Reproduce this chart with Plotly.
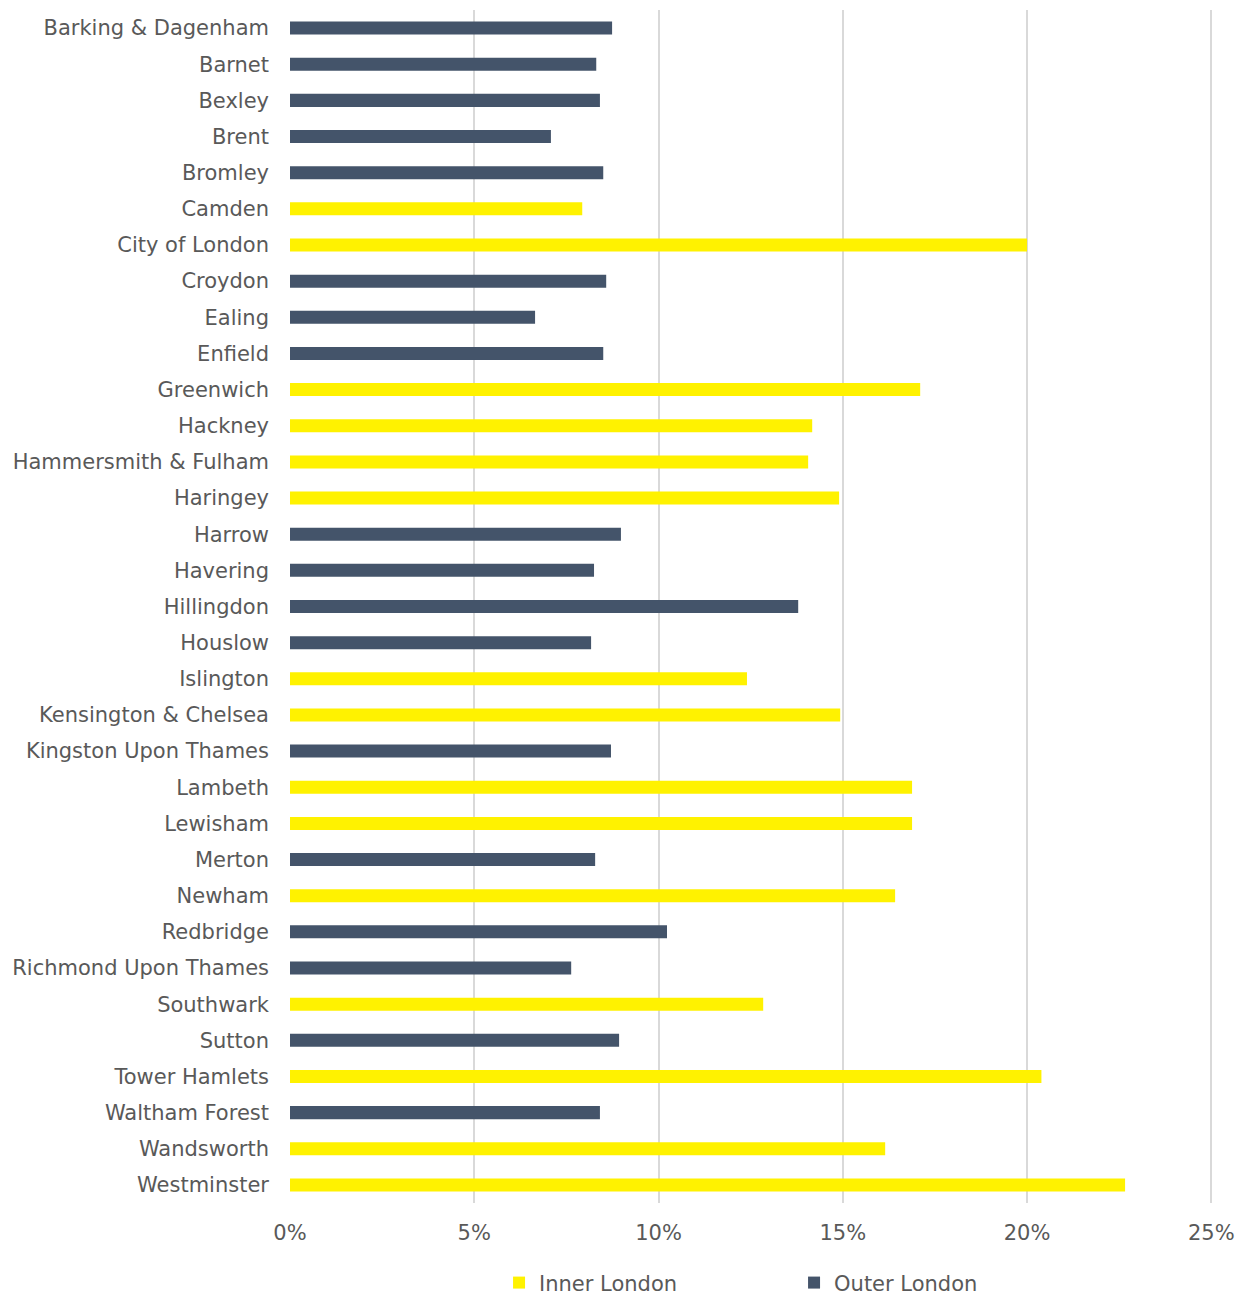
import plotly.graph_objects as go

# Share by London borough, grouped into Inner / Outer London
boroughs = [
    "Barking & Dagenham", "Barnet", "Bexley", "Brent", "Bromley", "Camden",
    "City of London", "Croydon", "Ealing", "Enfield", "Greenwich", "Hackney",
    "Hammersmith & Fulham", "Haringey", "Harrow", "Havering", "Hillingdon",
    "Houslow", "Islington", "Kensington & Chelsea", "Kingston Upon Thames",
    "Lambeth", "Lewisham", "Merton", "Newham", "Redbridge",
    "Richmond Upon Thames", "Southwark", "Sutton", "Tower Hamlets",
    "Waltham Forest", "Wandsworth", "Westminster",
]
values = [
    8.74, 8.31, 8.41, 7.08, 8.50, 7.93,
    20.0, 8.58, 6.65, 8.50, 17.10, 14.17,
    14.06, 14.90, 8.98, 8.25, 13.79,
    8.17, 12.40, 14.93, 8.71,
    16.88, 16.88, 8.28, 16.42, 10.23,
    7.63, 12.84, 8.93, 20.39,
    8.41, 16.15, 22.66,
]
groups = [
    "Outer", "Outer", "Outer", "Outer", "Outer", "Inner",
    "Inner", "Outer", "Outer", "Outer", "Inner", "Inner",
    "Inner", "Inner", "Outer", "Outer", "Outer",
    "Outer", "Inner", "Inner", "Outer",
    "Inner", "Inner", "Outer", "Inner", "Outer",
    "Outer", "Inner", "Outer", "Inner",
    "Outer", "Inner", "Inner",
]
x_ticks = [0, 5, 10, 15, 20, 25]
x_tick_labels = ["0%", "5%", "10%", "15%", "20%", "25%"]

series = [
    ("Inner London", "Inner", "#FFF200"),
    ("Outer London", "Outer", "#44546A"),
]

FONT = "DejaVu Sans"
TEXT = "#595959"

fig = go.Figure()
for name, key, colour in series:
    ys = [b for b, g in zip(boroughs, groups) if g == key]
    xs = [v for v, g in zip(values, groups) if g == key]
    fig.add_trace(go.Bar(
        y=ys, x=xs, name=name, orientation="h",
        marker=dict(color=colour, line=dict(width=0)),
        width=0.36,
    ))

fig.update_layout(
    width=1241, height=1295,
    margin=dict(l=290, r=26, t=10, b=92, autoexpand=False),
    paper_bgcolor="white", plot_bgcolor="white",
    barmode="overlay",
    font=dict(family=FONT, size=21, color=TEXT),
    legend=dict(
        orientation="h", x=0.226, xanchor="left", y=-0.067, yanchor="middle",
        entrywidth=250, entrywidthmode="pixels",
        font=dict(family=FONT, size=21, color=TEXT),
        itemwidth=30, traceorder="normal",
    ),
    showlegend=True,
)
fig.update_xaxes(
    range=[0, 25.1], tickvals=x_ticks, ticktext=x_tick_labels,
    showgrid=True, gridcolor="#D9D9D9", gridwidth=2,
    zeroline=False, showline=False, ticks="",
    ticklabelstandoff=15,
    tickfont=dict(family=FONT, size=21, color=TEXT),
)
fig.update_yaxes(
    categoryorder="array", categoryarray=boroughs, autorange="reversed",
    showgrid=False, zeroline=False, showline=False, ticks="",
    ticklabelstandoff=20,
    tickfont=dict(family=FONT, size=21, color=TEXT),
)

fig.write_html("out.html")
